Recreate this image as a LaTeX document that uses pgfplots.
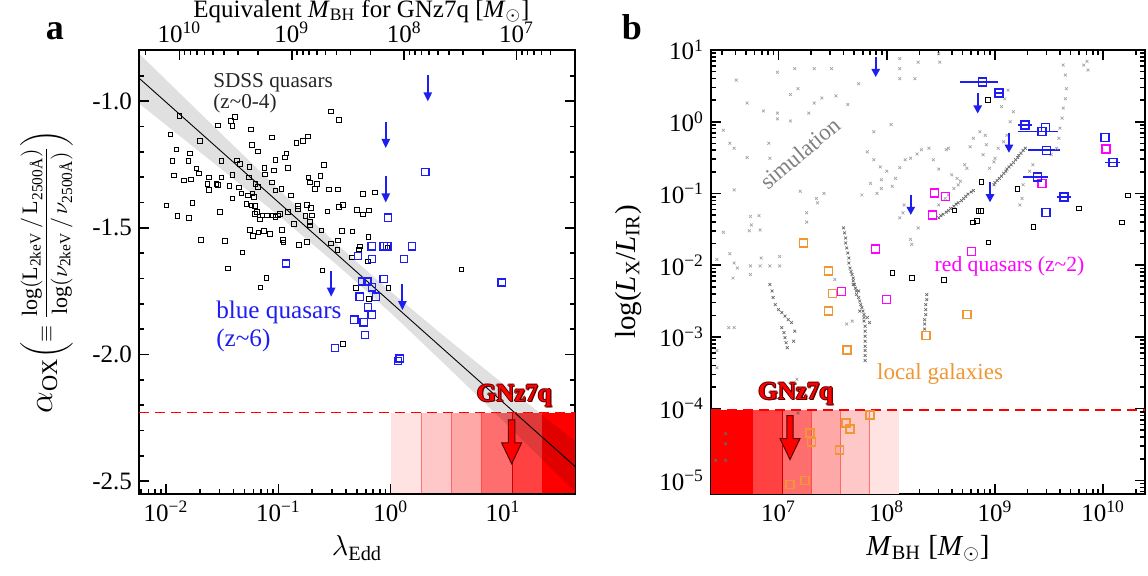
\documentclass[border=0pt]{standalone}
\usepackage{fontspec}
\setmainfont{Liberation Serif}
\usepackage{amsmath}
\usepackage{pgfplots}
\pgfplotsset{compat=1.18}

\definecolor{rbA}{RGB}{255,226,226}
\definecolor{rbB}{RGB}{255,200,200}
\definecolor{rbC}{RGB}{255,168,168}
\definecolor{rbD}{RGB}{255,110,110}
\definecolor{rbE}{RGB}{255,65,65}
\definecolor{rbF}{RGB}{255,0,0}
\definecolor{qblue}{RGB}{30,30,240}
\definecolor{qmag}{RGB}{255,0,255}
\definecolor{qorange}{RGB}{240,150,50}
\definecolor{simgray}{RGB}{165,165,165}
\definecolor{simdark}{RGB}{105,105,105}
\definecolor{gnedge}{RGB}{90,0,0}

\pgfdeclareplotmark{ulA}{%
  \pgfpathmoveto{\pgfpointorigin}
  \pgfpathlineto{\pgfpoint{0pt}{-9pt}}
  \pgfusepathqstroke
  \pgfpathmoveto{\pgfpoint{-2.2pt}{-8.5pt}}
  \pgfpathlineto{\pgfpoint{2.2pt}{-8.5pt}}
  \pgfpathlineto{\pgfpoint{0pt}{-13pt}}
  \pgfpathclose
  \pgfusepathqfill}
\pgfdeclareplotmark{ulB}{%
  \pgfpathmoveto{\pgfpointorigin}
  \pgfpathlineto{\pgfpoint{0pt}{-6.5pt}}
  \pgfusepathqstroke
  \pgfpathmoveto{\pgfpoint{-2.2pt}{-6pt}}
  \pgfpathlineto{\pgfpoint{2.2pt}{-6pt}}
  \pgfpathlineto{\pgfpoint{0pt}{-10pt}}
  \pgfpathclose
  \pgfusepathqfill}
\pgfdeclareplotmark{gnarrow}{%
  \pgfpathmoveto{\pgfpoint{-1.6pt}{0pt}}
  \pgfpathlineto{\pgfpoint{1.6pt}{0pt}}
  \pgfpathlineto{\pgfpoint{1.6pt}{-11.5pt}}
  \pgfpathlineto{\pgfpoint{5pt}{-11.5pt}}
  \pgfpathlineto{\pgfpoint{0pt}{-22pt}}
  \pgfpathlineto{\pgfpoint{-5pt}{-11.5pt}}
  \pgfpathlineto{\pgfpoint{-1.6pt}{-11.5pt}}
  \pgfpathclose
  \pgfusepathqfillstroke}

\newcommand{\tickfont}{\fontsize{12.5}{14}\selectfont}
\newcommand{\labfont}{\fontsize{14.5}{16}\selectfont}
\newcommand{\gnfont}{\fontsize{12.5}{14}\selectfont\bfseries}

\pgfplotsset{
  panel/.style={
    scale only axis, height=222pt,
    tick align=inside,
    axis line style={line width=1pt},
    major tick length=5pt, minor tick length=2.5pt,
    every tick/.style={black, line width=0.8pt},
    tick label style={font=\tickfont},
  },
  blk/.style={only marks, mark=square, mark size=1.15pt, mark options={black, line width=0.45pt}},
  bsq/.style={only marks, mark=square, mark size=1.8pt, mark options={qblue, line width=0.65pt}},
}

\begin{document}
\begin{tikzpicture}
\path[use as bounding box] (0,0) rectangle (574pt,288pt);

%================ LEFT PANEL ==================
\begin{axis}[panel, width=218pt, at={(69.5pt,41pt)}, anchor=south west,
  xmin=-2.24, xmax=1.64, ymin=-2.551, ymax=-0.798,
  xtick={-2,-1,0,1},
  xticklabels={10\textsuperscript{−2},10\textsuperscript{−1},10\textsuperscript{0},10\textsuperscript{1}},
  minor xtick={-2.222,-2.155,-2.097,-2.046,-1.699,-1.523,-1.398,-1.301,-1.222,-1.155,-1.097,-1.046,-0.699,-0.523,-0.398,-0.301,-0.222,-0.155,-0.097,-0.046,0.301,0.477,0.602,0.699,0.778,0.845,0.903,0.954,1.301,1.477,1.602},
  xtick pos=left,
  ytick={-2.5,-2,-1.5,-1},
  yticklabels={-2.5,-2.0,-1.5,-1.0},
  minor ytick={-2.4,-2.3,-2.2,-2.1,-1.9,-1.8,-1.7,-1.6,-1.4,-1.3,-1.2,-1.1,-0.9},
  xlabel={$\lambda_{\text{Edd}}$},
  xlabel style={at={(axis description cs:0.5,-0.122)}, anchor=center, font=\labfont},
  ylabel={{\fontsize{16}{18}\selectfont$\alpha_{\text{OX}}$}$\left(\equiv\dfrac{\text{log}(\text{L}_{\text{2keV}}\,/\,\text{L}_{\text{2500\AA}})}{\text{log}(\nu_{\text{2keV}}\,/\,\nu_{\text{2500\AA}})}\right)$},
  ylabel style={at={(axis description cs:-0.212,0.5)}, anchor=center, font=\fontsize{11}{13}\selectfont},
]
% GNz7q constraint bands
\addplot[fill=rbA, draw=none] coordinates {(0,-2.551) (0.27,-2.551) (0.27,-2.23) (0,-2.23)} --cycle;
\addplot[fill=rbB, draw=none] coordinates {(0.27,-2.551) (0.54,-2.551) (0.54,-2.23) (0.27,-2.23)} --cycle;
\addplot[fill=rbC, draw=none] coordinates {(0.54,-2.551) (0.81,-2.551) (0.81,-2.23) (0.54,-2.23)} --cycle;
\addplot[fill=rbD, draw=none] coordinates {(0.81,-2.551) (1.08,-2.551) (1.08,-2.23) (0.81,-2.23)} --cycle;
\addplot[fill=rbE, draw=none] coordinates {(1.08,-2.551) (1.35,-2.551) (1.35,-2.23) (1.08,-2.23)} --cycle;
\addplot[fill=rbF, draw=none] coordinates {(1.35,-2.551) (1.64,-2.551) (1.64,-2.23) (1.35,-2.23)} --cycle;
\addplot[red!55, line width=0.4pt] coordinates {(0.27,-2.551) (0.27,-2.23)};
\addplot[red!60, line width=0.4pt] coordinates {(0.54,-2.551) (0.54,-2.23)};
\addplot[red!70, line width=0.4pt] coordinates {(0.81,-2.551) (0.81,-2.23)};
\addplot[red!80!black, line width=0.4pt] coordinates {(1.08,-2.551) (1.08,-2.23)};
% regression band and line
\addplot[fill=black, fill opacity=0.12, draw=none] coordinates {(-2.24,-0.812) (-1.5,-1.132) (-1,-1.347) (-0.5,-1.556) (-0.3,-1.636) (0,-1.752) (0.5,-1.937) (1,-2.116) (1.64,-2.342) (1.64,-2.542) (1,-2.262) (0.5,-2.047) (0,-1.836) (-0.3,-1.716) (-0.5,-1.638) (-1,-1.451) (-1.5,-1.271) (-2.24,-1.009)} --cycle;
\addplot[black, line width=0.45pt] coordinates {(-2.24,-0.909) (1.64,-2.442)};
\addplot[red, line width=0.8pt, dash pattern=on 5pt off 3pt] coordinates {(-2.24,-2.23) (1.64,-2.23)};
% SDSS quasars
\addplot[blk] coordinates {
(-1.881,-1.059) (-1.535,-1.096) (-1.422,-1.079) (-1.384,-1.062) (-1.407,-1.099) (-1.244,-1.112) (-1.959,-1.131) (-1.698,-1.157) (-1.055,-1.144) (-1.908,-1.191) (-1.787,-1.207) (-1.941,-1.236) (-1.799,-1.236) (-1.233,-1.173) (-1.179,-1.198) (-0.839,-1.165) (-0.779,-1.158) (-0.735,-1.140) (-0.533,-1.040) (-0.462,-1.075) (-0.927,-1.207) (-0.939,-1.223) (-1.025,-1.232) (-1.508,-1.236) (-1.369,-1.234) (-1.342,-1.249) (-1.256,-1.260) (-1.123,-1.263) (-1.037,-1.273) (-0.913,-1.263) (-0.596,-1.251) (-1.730,-1.265) (-1.707,-1.286) (-1.929,-1.294) (-1.840,-1.313) (-1.778,-1.309) (-1.615,-1.301) (-1.630,-1.326) (-1.615,-1.350) (-1.550,-1.328) (-1.538,-1.331) (-1.505,-1.302) (-1.434,-1.335) (-1.407,-1.292) (-1.348,-1.340) (-1.327,-1.365) (-1.262,-1.301) (-1.203,-1.328) (-1.182,-1.339) (-1.120,-1.290) (-1.055,-1.321) (-1.025,-1.352) (-0.972,-1.346) (-0.889,-1.372) (-0.732,-1.302) (-0.720,-1.321) (-0.625,-1.296) (-0.655,-1.328) (-0.673,-1.346) (-0.548,-1.348) (-0.471,-1.348) (-1.994,-1.412) (-1.899,-1.454) (-1.796,-1.460) (-1.766,-1.401) (-1.520,-1.437) (-1.407,-1.384) (-1.268,-1.372) (-1.230,-1.365) (-1.218,-1.379) (-1.283,-1.405) (-1.239,-1.412) (-1.206,-1.414) (-1.191,-1.438) (-1.209,-1.445) (-1.164,-1.467) (-1.141,-1.451) (-1.099,-1.451) (-1.046,-1.451) (-1.025,-1.458) (-1.001,-1.451) (-0.984,-1.445) (-0.913,-1.438) (-0.824,-1.414) (-0.859,-1.484) (-0.824,-1.425) (-0.759,-1.454) (-0.744,-1.410) (-0.702,-1.451) (-0.720,-1.478) (-0.717,-1.491) (-0.616,-1.511) (-0.711,-1.422) (-0.563,-1.435) (-0.462,-1.418) (-0.424,-1.410) (-0.299,-1.429) (-0.196,-1.431) (-0.246,-1.447) (-0.246,-1.367) (-0.142,-1.361) (-1.250,-1.509) (-1.224,-1.532) (-1.176,-1.518) (-1.126,-1.512) (-1.076,-1.524) (-0.966,-1.509) (-0.957,-1.548) (-0.954,-1.558) (-1.689,-1.548) (-1.476,-1.551) (-1.319,-1.598) (-0.815,-1.567) (-0.747,-1.555) (-0.533,-1.562) (-0.471,-1.550) (-0.474,-1.587) (-0.433,-1.512) (-0.341,-1.515) (-0.276,-1.573) (-0.284,-1.586) (-0.199,-1.537) (-0.344,-1.617) (-0.201,-1.633) (-0.030,-1.577) (-1.446,-1.661) (-1.105,-1.698) (-1.159,-1.736) (-0.607,-1.669) (-0.311,-1.737) (-0.021,-1.737) (-0.193,-1.781) (-0.424,-1.959) (0.631,-1.665)
};
% blue quasars
\addplot[bsq] coordinates {
(0.308,-1.280) (-0.024,-1.460) (-0.169,-1.573) (-0.062,-1.573) (-0.030,-1.573) (0.190,-1.573) (-0.293,-1.612) (-0.166,-1.623) (0.119,-1.623) (-0.930,-1.641) (-0.062,-1.702) (-0.255,-1.712) (-0.207,-1.712) (-0.166,-1.735) (-0.276,-1.772) (-0.133,-1.772) (-0.204,-1.814) (-0.169,-1.843) (-0.323,-1.863) (-0.240,-1.873) (-0.231,-1.923) (-0.498,-1.974) (0.080,-2.016) (0.065,-2.025) (0.987,-1.716)
};
% blue quasar upper limits
\addplot[only marks, mark=ulA, mark options={qblue, fill=qblue, line width=1pt}] coordinates {
(0.33,-0.898) (-0.044,-1.082) (-0.044,-1.297) (-0.530,-1.669) (0.104,-1.722)
};
% GNz7q
\addplot[only marks, mark=gnarrow, mark options={fill=red, draw=gnedge, line width=0.5pt}] coordinates {(1.076,-2.258)};
\node[font=\gnfont, text=gnedge, xshift=0.5pt] at (axis cs:1.10,-2.163) {GNz7q};
\node[font=\gnfont, text=gnedge, xshift=-0.5pt] at (axis cs:1.10,-2.163) {GNz7q};
\node[font=\gnfont, text=gnedge, yshift=0.5pt] at (axis cs:1.10,-2.163) {GNz7q};
\node[font=\gnfont, text=gnedge, yshift=-0.5pt] at (axis cs:1.10,-2.163) {GNz7q};
\node[font=\gnfont, text=gnedge, xshift=0.6pt, yshift=-0.6pt] at (axis cs:1.10,-2.163) {GNz7q};
\node[font=\gnfont, text=red] at (axis cs:1.10,-2.163) {GNz7q};
% annotations
\node[anchor=north west, align=left, inner sep=0pt, text=black!85, font=\fontsize{10.6}{10.5}\selectfont] at (axis cs:-1.582,-0.889) {SDSS quasars\\(z\textasciitilde 0-4)};
\node[anchor=north west, align=left, inner sep=0pt, text=qblue, font=\fontsize{12.6}{14}\selectfont] at (axis cs:-1.556,-1.787) {blue quasars\\(z\textasciitilde 6)};
\end{axis}

% top axis: equivalent black hole mass
\begin{axis}[panel, width=218pt, at={(69.5pt,41pt)}, anchor=south west,
  xmin=6.48, xmax=10.36, x dir=reverse, ymin=0, ymax=1,
  hide y axis,
  xtick pos=right, xticklabel pos=right,
  xtick={7,8,9,10},
  xticklabels={10\textsuperscript{7},10\textsuperscript{8},10\textsuperscript{9},10\textsuperscript{10}},
  minor xtick={6.699,6.778,6.845,6.903,6.954,7.301,7.477,7.602,7.699,7.778,7.845,7.903,7.954,8.301,8.477,8.602,8.699,8.778,8.845,8.903,8.954,9.301,9.477,9.602,9.699,9.778,9.845,9.903,9.954,10.301},
  xlabel={Equivalent \textit{M}\textsubscript{BH} for GNz7q [\textit{M}\textsubscript{$\odot$}]},
  xlabel style={at={(axis description cs:0.51,1.088)}, anchor=center, font=\tickfont},
]
\end{axis}

%================ RIGHT PANEL ==================
\begin{axis}[panel, width=217pt, at={(355.5pt,41pt)}, anchor=south west,
  xmin=6.376, xmax=10.386, ymin=-5.19, ymax=1,
  xtick={7,8,9,10},
  xticklabels={10\textsuperscript{7},10\textsuperscript{8},10\textsuperscript{9},10\textsuperscript{10}},
  minor xtick={6.477,6.602,6.699,6.778,6.845,6.903,6.954,7.301,7.477,7.602,7.699,7.778,7.845,7.903,7.954,8.301,8.477,8.602,8.699,8.778,8.845,8.903,8.954,9.301,9.477,9.602,9.699,9.778,9.845,9.903,9.954,10.301},
  ytick={-5,-4,-3,-2,-1,0,1},
  yticklabels={10\textsuperscript{−5},10\textsuperscript{−4},10\textsuperscript{−3},10\textsuperscript{−2},10\textsuperscript{−1},10\textsuperscript{0},10\textsuperscript{1}},
  minor ytick={-5.155,-5.097,-5.046,-4.699,-4.523,-4.398,-4.301,-4.222,-4.155,-4.097,-4.046,-3.699,-3.523,-3.398,-3.301,-3.222,-3.155,-3.097,-3.046,-2.699,-2.523,-2.398,-2.301,-2.222,-2.155,-2.097,-2.046,-1.699,-1.523,-1.398,-1.301,-1.222,-1.155,-1.097,-1.046,-0.699,-0.523,-0.398,-0.301,-0.222,-0.155,-0.097,-0.046,0.301,0.477,0.602,0.699,0.778,0.845,0.903,0.954},
  xlabel={\textit{M}\textsubscript{BH} [\textit{M}\textsubscript{$\odot$}]},
  xlabel style={at={(axis description cs:0.5,-0.122)}, anchor=center, font=\labfont},
  ylabel={log(\textit{L}\textsubscript{X}/\textit{L}\textsubscript{IR})},
  ylabel style={at={(axis description cs:-0.191,0.5)}, anchor=center, font=\labfont},
]
% GNz7q bands
\addplot[fill=rbF, draw=none] coordinates {(6.376,-5.19) (6.766,-5.19) (6.766,-4.02) (6.376,-4.02)} --cycle;
\addplot[fill=rbE, draw=none] coordinates {(6.766,-5.19) (7.034,-5.19) (7.034,-4.02) (6.766,-4.02)} --cycle;
\addplot[fill=rbD, draw=none] coordinates {(7.034,-5.19) (7.302,-5.19) (7.302,-4.02) (7.034,-4.02)} --cycle;
\addplot[fill=rbC, draw=none] coordinates {(7.302,-5.19) (7.572,-5.19) (7.572,-4.02) (7.302,-4.02)} --cycle;
\addplot[fill=rbB, draw=none] coordinates {(7.572,-5.19) (7.843,-5.19) (7.843,-4.02) (7.572,-4.02)} --cycle;
\addplot[fill=rbA, draw=none] coordinates {(7.843,-5.19) (8.111,-5.19) (8.111,-4.02) (7.843,-4.02)} --cycle;
\addplot[red!80!black, line width=0.4pt] coordinates {(7.034,-5.19) (7.034,-4.02)};
\addplot[red!70, line width=0.4pt] coordinates {(7.302,-5.19) (7.302,-4.02)};
\addplot[red!60, line width=0.4pt] coordinates {(7.572,-5.19) (7.572,-4.02)};
\addplot[red!55, line width=0.4pt] coordinates {(7.843,-5.19) (7.843,-4.02)};
\addplot[red, line width=0.8pt, dash pattern=on 5pt off 3pt] coordinates {(6.376,-4.02) (10.386,-4.02)};
% simulation: scattered
\addplot[only marks, mark=x, mark size=1pt, mark options={simgray, line width=0.35pt}] coordinates {
(6.99,0.69) (7.15,0.74) (7.33,0.74) (7.49,0.74) (6.61,0.58) (7.11,0.38) (7.18,0.46) (7.40,0.33) (7.53,0.36) (7.64,0.24) (7.33,0.26) (7.74,0.53) (8.12,0.60) (8.26,0.60) (8.12,0.74) (8.29,0.83) (8.48,0.95) (8.49,0.83) (6.71,0.26) (6.86,0.15) (6.99,0.12) (6.99,0.04) (7.11,0.01) (7.28,0.12) (6.49,-0.12) (6.59,-0.37) (6.55,-0.30) (6.91,-0.30) (6.71,-0.50) (6.92,-0.51) (7.20,-0.97) (6.59,-0.95) (7.26,-1.27) (7.35,-1.07) (7.36,-1.13) (7.42,-1.00) (6.74,-1.32) (6.82,-1.31) (6.73,-1.52) (6.83,-1.51) (6.75,-1.44) (6.49,-1.54) (7.26,-1.40) (7.88,-0.14) (8.04,-0.04) (7.77,-1.02) (7.91,-1.00) (7.85,-0.86) (7.88,-0.53) (7.94,-0.63) (7.82,-0.42) (8.00,-0.69) (7.95,-0.81) (7.95,-0.93) (8.05,-0.90) (8.08,-0.79) (8.12,-0.64) (8.17,-0.53) (8.22,-0.51) (8.28,-0.45) (8.32,-0.39) (8.39,-0.37) (8.43,-0.53) (8.48,-0.66) (8.55,-0.39) (8.57,-0.37) (8.60,-0.74) (8.65,-0.79) (8.72,-0.60) (8.74,-0.65) (8.77,-0.35) (8.80,-0.23) (8.86,-0.14) (8.91,-0.19) (8.92,-0.32) (8.89,-0.46) (8.99,-0.56) (8.95,-0.65) (9.00,-0.51) (9.03,-0.37) (9.08,-0.28) (9.11,-0.19) (9.14,0.00) (9.17,0.14) (9.12,0.44) (9.09,0.32) (9.06,0.21) (9.63,0.79) (9.65,0.65) (9.66,0.46) (9.65,0.32) (9.63,0.19) (9.62,0.05) (9.60,-0.09) (9.59,-0.23) (9.57,-0.37) (9.52,-0.46) (9.35,-0.60) (9.32,-0.69) (9.26,-0.88) (9.25,-1.07) (9.23,-1.16) (9.86,0.72) (9.85,0.84) (9.82,0.79) (8.29,-1.48) (8.22,-1.64) (8.23,-1.71) (8.15,-1.27) (8.16,-1.16) (8.12,-1.34) (8.48,-1.16) (8.54,-1.07) (8.57,-1.02) (8.62,-0.93) (8.66,-0.88) (8.68,-0.83) (8.12,0.88)
(6.55,-1.84) (6.59,-1.97) (6.62,-2.04) (6.74,-2.01) (6.74,-2.13) (6.83,-2.01) (6.84,-1.90) (6.92,-2.01) (7.01,-1.88) (7.01,-2.01) (6.58,-2.18) (6.43,-1.92) (6.54,-2.87) (6.59,-2.87) (6.43,-3.19) (6.43,-3.43) (7.17,-3.59) (7.52,-2.20) (7.68,-2.78) (7.63,-2.82)
};
% simulation: dense tracks
\addplot[only marks, mark=x, mark size=1pt, mark options={simdark, line width=0.35pt}] coordinates {
(8.48,-1.34) (8.50,-1.31) (8.52,-1.29) (8.55,-1.26) (8.57,-1.24) (8.59,-1.21) (8.62,-1.18) (8.64,-1.15) (8.66,-1.13) (8.69,-1.10) (8.71,-1.07) (8.73,-1.04) (8.75,-1.01) (8.78,-0.98) (8.80,-0.96)
(8.99,-0.88) (9.00,-0.85) (9.02,-0.82) (9.04,-0.79) (9.06,-0.76) (9.08,-0.72) (9.10,-0.69) (9.11,-0.66) (9.13,-0.63) (9.15,-0.60) (9.17,-0.57) (9.19,-0.53) (9.21,-0.50) (9.22,-0.47) (9.24,-0.44) (9.26,-0.40) (9.28,-0.37)
(6.92,-2.27) (6.94,-2.36) (6.95,-2.45) (6.97,-2.55) (7.00,-2.62) (7.03,-2.66) (7.06,-2.71) (7.09,-2.76) (7.12,-2.80)
(7.03,-2.87) (7.05,-2.94) (7.06,-3.01) (7.07,-3.08) (7.08,-3.15) (7.15,-2.92) (7.14,-3.06)
(7.60,-1.48) (7.61,-1.55) (7.62,-1.62) (7.62,-1.69) (7.63,-1.76) (7.64,-1.83) (7.65,-1.90) (7.65,-1.97) (7.66,-2.04) (7.67,-2.09) (7.68,-2.13) (7.69,-2.18) (7.69,-2.22) (7.70,-2.27) (7.71,-2.32) (7.72,-2.36) (7.72,-2.41) (7.74,-2.45) (7.75,-2.50) (7.76,-2.55) (7.77,-2.59) (7.78,-2.64) (7.79,-2.69) (7.79,-2.73) (7.79,-2.78) (7.80,-2.85) (7.80,-2.92) (7.80,-2.99) (7.80,-3.06) (7.80,-3.13) (7.80,-3.19) (7.80,-3.26) (7.80,-3.33) (7.69,-2.27) (7.74,-2.36) (7.75,-2.64) (7.82,-2.73) (7.84,-2.80)
(8.37,-2.41) (8.37,-2.48) (8.36,-2.55) (8.36,-2.62) (8.36,-2.69) (8.35,-2.76) (8.35,-2.82) (8.35,-2.89)
(6.51,-4.35) (6.51,-4.49) (6.51,-4.72) (6.42,-4.72) (7.18,-4.06)
};
% local galaxies
\addplot[only marks, mark=square, mark size=2pt, mark options={qorange, line width=0.75pt}] coordinates {
(7.231,-1.694) (7.462,-2.083) (7.498,-2.394) (7.462,-2.639) (7.634,-3.181) (8.363,-2.977) (8.742,-2.685) (7.843,-4.088) (7.622,-4.199) (7.658,-4.282) (7.289,-4.338) (7.305,-4.463) (7.563,-4.579) (7.243,-5.0) (7.108,-5.056)
};
% red quasars
\addplot[only marks, mark=square, mark size=2pt, mark options={qmag, line width=0.75pt}] coordinates {
(10.025,-0.380) (9.434,-0.861) (8.443,-0.991) (8.542,-1.046) (8.422,-1.301) (7.898,-1.778) (8.785,-1.810) (7.582,-2.366) (7.997,-2.481)
};
% black squares
\addplot[blk] coordinates {
(8.935,0.301) (8.874,-0.838) (9.206,-0.940) (8.625,-1.236) (8.846,-1.241) (8.868,-1.241) (8.831,-1.380) (8.794,-1.403) (9.354,-1.463) (9.775,-1.208) (10.175,-1.407) (10.231,-1.028) (8.938,-1.681) (8.052,-2.111) (8.234,-2.181) (8.526,-2.204)
};
% blue quasars with error bars
\addplot[only marks, mark=square, mark size=2pt, mark options={qblue, line width=0.75pt},
  error bars/.cd, x dir=both, x explicit, error mark=none, error bar style={qblue, line width=0.8pt}] coordinates {
(8.886,0.556) += (0.139,0) -= (0.209,0)
(9.037,0.403) += (0.040,0) -= (0.037,0)
(9.277,-0.046) += (0.061,0) -= (0.062,0)
(9.465,-0.083) += (0,0) -= (0,0)
(9.434,-0.139) += (0.144,0) -= (0.219,0)
(9.477,-0.398) += (0.123,0) -= (0.169,0)
(9.391,-0.773) += (0.095,0) -= (0.129,0)
(9.637,-1.051) += (0.061,0) -= (0.062,0)
(9.471,-1.264) += (0,0) -= (0,0)
(10.015,-0.222) += (0,0) -= (0,0)
(10.092,-0.569) += (0.062,0) -= (0.077,0)
};
\addplot[only marks, mark=ulB, mark options={qblue, fill=qblue, line width=1pt}] coordinates {
(7.898,0.903) (8.840,0.394) (9.129,-0.153) (8.954,-0.843) (8.222,-1.019)
};
% GNz7q
\addplot[only marks, mark=gnarrow, mark options={fill=red, draw=gnedge, line width=0.5pt}] coordinates {(7.106,-4.097)};
\node[font=\gnfont, text=gnedge, xshift=0.5pt] at (axis cs:7.16,-3.79) {GNz7q};
\node[font=\gnfont, text=gnedge, xshift=-0.5pt] at (axis cs:7.16,-3.79) {GNz7q};
\node[font=\gnfont, text=gnedge, yshift=0.5pt] at (axis cs:7.16,-3.79) {GNz7q};
\node[font=\gnfont, text=gnedge, yshift=-0.5pt] at (axis cs:7.16,-3.79) {GNz7q};
\node[font=\gnfont, text=gnedge, xshift=0.6pt, yshift=-0.6pt] at (axis cs:7.16,-3.79) {GNz7q};
\node[font=\gnfont, text=red] at (axis cs:7.16,-3.79) {GNz7q};
% annotations
\node[rotate=40, text=gray, font=\fontsize{11.5}{13}\selectfont] at (axis cs:7.2,-0.44) {simulation};
\node[anchor=west, text=qmag, font=\fontsize{10.8}{12}\selectfont] at (axis cs:8.378,-2.01) {red quasars (z\textasciitilde 2)};
\node[text=qorange, font=\fontsize{11.5}{13}\selectfont] at (axis cs:8.492,-3.519) {local galaxies};
\end{axis}

\node[anchor=base, font=\fontsize{18}{20}\selectfont\bfseries] at (27.5pt,268pt) {a};
\node[anchor=base, font=\fontsize{18}{20}\selectfont\bfseries] at (316pt,268pt) {b};
\end{tikzpicture}
\end{document}
